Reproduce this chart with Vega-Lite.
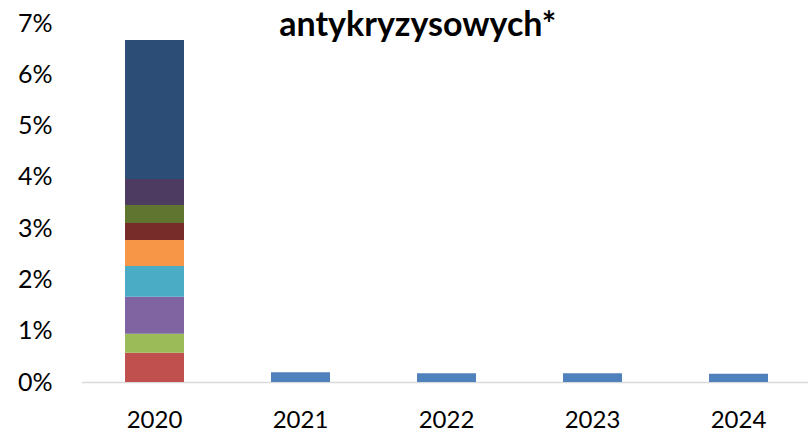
{
  "$schema": "https://vega.github.io/schema/vega-lite/v6.json",
  "autosize": {"type": "none"},
  "width": 726.5,
  "height": 359,
  "padding": {"left": 81.5, "top": 23, "right": 0, "bottom": 51},
  "background": "white",
  "view": {"stroke": null},
  "title": {
    "text": "antykryzysowych*",
    "font": "Lato",
    "fontSize": 34,
    "fontWeight": "bold",
    "color": "#000000",
    "anchor": "middle",
    "frame": "group",
    "baseline": "alphabetic",
    "offset": -59,
    "dx": -27
  },
  "data": {
    "values": [
      {"rok": "2020", "seria": "S1", "n": 1, "v": 0.0},
      {"rok": "2020", "seria": "S2", "n": 2, "v": 0.0057},
      {"rok": "2020", "seria": "S3", "n": 3, "v": 0.0037},
      {"rok": "2020", "seria": "S4", "n": 4, "v": 0.0072},
      {"rok": "2020", "seria": "S5", "n": 5, "v": 0.0060},
      {"rok": "2020", "seria": "S6", "n": 6, "v": 0.0051},
      {"rok": "2020", "seria": "S7", "n": 7, "v": 0.0033},
      {"rok": "2020", "seria": "S8", "n": 8, "v": 0.0035},
      {"rok": "2020", "seria": "S9", "n": 9, "v": 0.0051},
      {"rok": "2020", "seria": "S10", "n": 10, "v": 0.0271},
      {"rok": "2021", "seria": "S1", "n": 1, "v": 0.0019},
      {"rok": "2022", "seria": "S1", "n": 1, "v": 0.0017},
      {"rok": "2023", "seria": "S1", "n": 1, "v": 0.0017},
      {"rok": "2024", "seria": "S1", "n": 1, "v": 0.0016}
    ]
  },
  "mark": {"type": "bar"},
  "encoding": {
    "x": {
      "field": "rok",
      "type": "nominal",
      "scale": {"paddingInner": 0.596, "paddingOuter": 0.286, "align": 0.521},
      "axis": {
        "title": null,
        "labelAngle": 0,
        "labelFont": "Lato",
        "labelFontSize": 24,
        "labelColor": "#000000",
        "labelPadding": 26,
        "ticks": false,
        "domainColor": "#d9d9d9",
        "domainWidth": 1.5,
        "grid": false
      }
    },
    "y": {
      "field": "v",
      "type": "quantitative",
      "stack": "zero",
      "scale": {"domain": [0, 0.07], "nice": false},
      "axis": {
        "title": null,
        "format": ".0%",
        "values": [0, 0.01, 0.02, 0.03, 0.04, 0.05, 0.06, 0.07],
        "labelFont": "Lato",
        "labelFontSize": 25,
        "labelColor": "#000000",
        "labelPadding": 29.5,
        "ticks": false,
        "domain": false,
        "grid": false
      }
    },
    "color": {
      "field": "seria",
      "type": "nominal",
      "scale": {
        "domain": ["S1", "S2", "S3", "S4", "S5", "S6", "S7", "S8", "S9", "S10"],
        "range": ["#4F81BD", "#C0504D", "#9BBB59", "#8064A2", "#4BACC6", "#F79646", "#772C2A", "#5F7530", "#4D3B62", "#2C4D75"]
      },
      "legend": null
    },
    "order": {"field": "n", "type": "quantitative"}
  }
}
